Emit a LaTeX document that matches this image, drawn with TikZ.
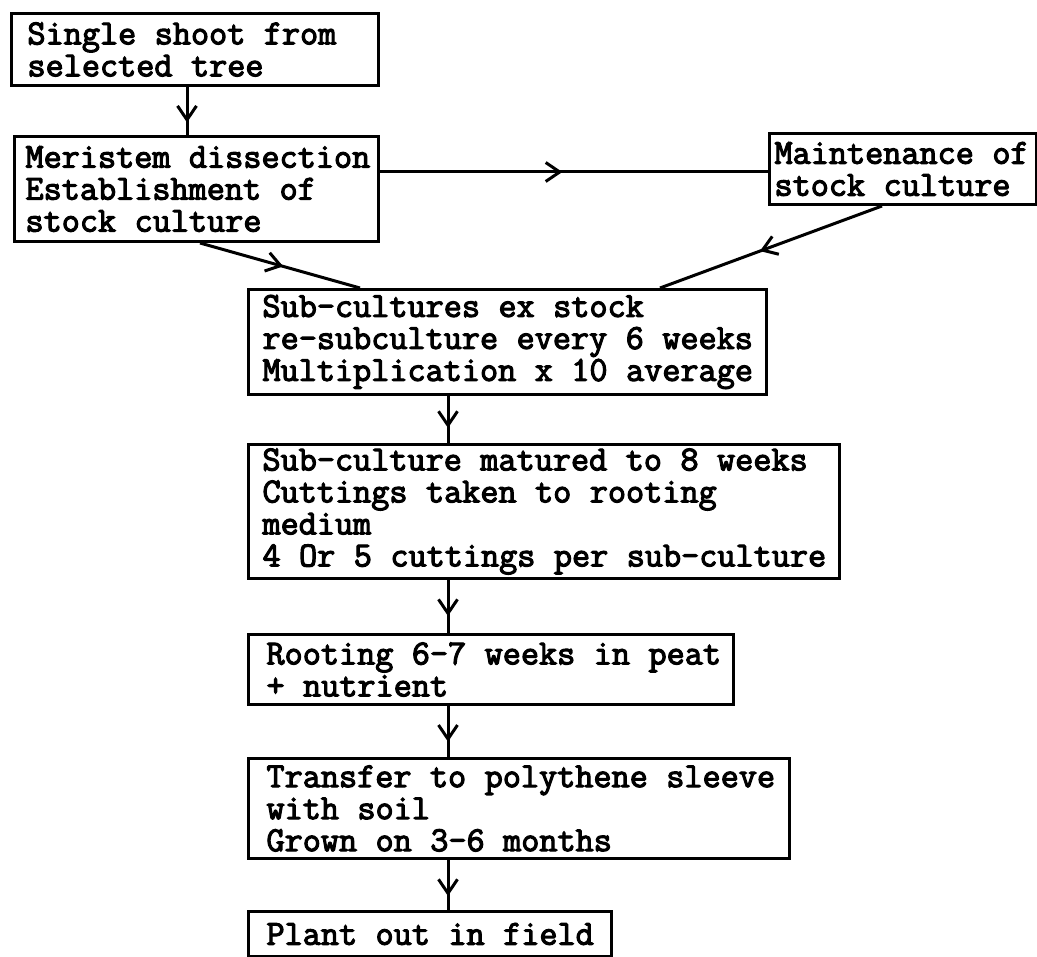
\documentclass[tikz,border=0pt]{standalone}
\usepackage{fontspec}
\newfontfamily\typewriter{Latin Modern Mono}[FakeBold=3.2]
\usetikzlibrary{arrows.meta,decorations.markings}
% left padding of a box's text, with full-width typewriter spaces
\newcommand\boxpad[1]{\leftskip=#1\spaceskip=0.525em\xspaceskip=0.525em\relax}
\begin{document}
\begin{tikzpicture}[x=1pt,y=-1pt,
  boxnode/.style={draw, line width=3pt, anchor=north west, inner sep=0pt,
    align=left, font=\typewriter\fontsize{35.2}{32}\selectfont},
  link/.style={line width=3pt},
  tipat/.style={postaction={decorate},
    decoration={markings, mark=at position #1 with
      {\arrow{Straight Barb[length=14pt,width=19pt]}}}}]
\fill[white] (0,0) rectangle (1037,957);
\useasboundingbox (0,0) rectangle (1037,957);

% process boxes (each text block ends with \par so the padding holds on every line)
\node[boxnode, text width=367pt, minimum height=72pt] (shoot) at (10,12)
  {\boxpad{16pt}Single shoot from\\selected tree\par};
\node[boxnode, text width=364pt, minimum height=105pt] (meristem) at (13,135)
  {\boxpad{11pt}Meristem dissection\\Establishment of\\stock culture\par};
\node[boxnode, text width=267pt, minimum height=71pt] (maint) at (768,132)
  {\boxpad{5pt}Maintenance of\\stock culture\par};
\node[boxnode, text width=518pt, minimum height=105pt] (subcult) at (247,288)
  {\boxpad{14pt}Sub-cultures ex stock\\re-subculture every 6 weeks\\Multiplication x 10 average\par};
\node[boxnode, text width=591pt, minimum height=134pt] (matured) at (247,443)
  {\boxpad{14pt}Sub-culture matured to 8 weeks\\Cuttings taken to rooting\\medium\\4 Or 5 cuttings per sub-culture\par};
\node[boxnode, text width=485pt, minimum height=70pt] (rooting) at (247,633)
  {\boxpad{18pt}Rooting 6-7 weeks in peat\\+ nutrient\par};
\node[boxnode, text width=541pt, minimum height=100pt] (sleeve) at (247,757)
  {\boxpad{18pt}Transfer to polythene sleeve\\with soil\\Grown on 3-6 months\par};
\node[boxnode, text width=363pt, minimum height=45pt] (field) at (247,910)
  {\boxpad{18pt}Plant out in field\par};

% guide coordinates for the connectors
\coordinate (colA) at (187,0);
\coordinate (colB) at (448,0);
\coordinate (rowH) at (0,172);
\coordinate (fromM) at (200,0);
\coordinate (toS1) at (360,0);
\coordinate (fromK) at (882,0);
\coordinate (toS2) at (660,0);

% connectors with arrow tips part way along
\draw[link, tipat=0.74] (shoot.south -| colA) -- (meristem.north -| colA);
\draw[link, tipat=0.47] (meristem.east |- rowH) -- (maint.west |- rowH);
\draw[link, tipat=0.52] (meristem.south -| fromM) -- (subcult.north -| toS1);
\draw[link, tipat=0.55] (maint.south -| fromK) -- (subcult.north -| toS2);
\draw[link, tipat=0.68] (subcult.south -| colB) -- (matured.north -| colB);
\draw[link, tipat=0.68] (matured.south -| colB) -- (rooting.north -| colB);
\draw[link, tipat=0.7] (rooting.south -| colB) -- (sleeve.north -| colB);
\draw[link, tipat=0.72] (sleeve.south -| colB) -- (field.north -| colB);
\end{tikzpicture}
\end{document}
